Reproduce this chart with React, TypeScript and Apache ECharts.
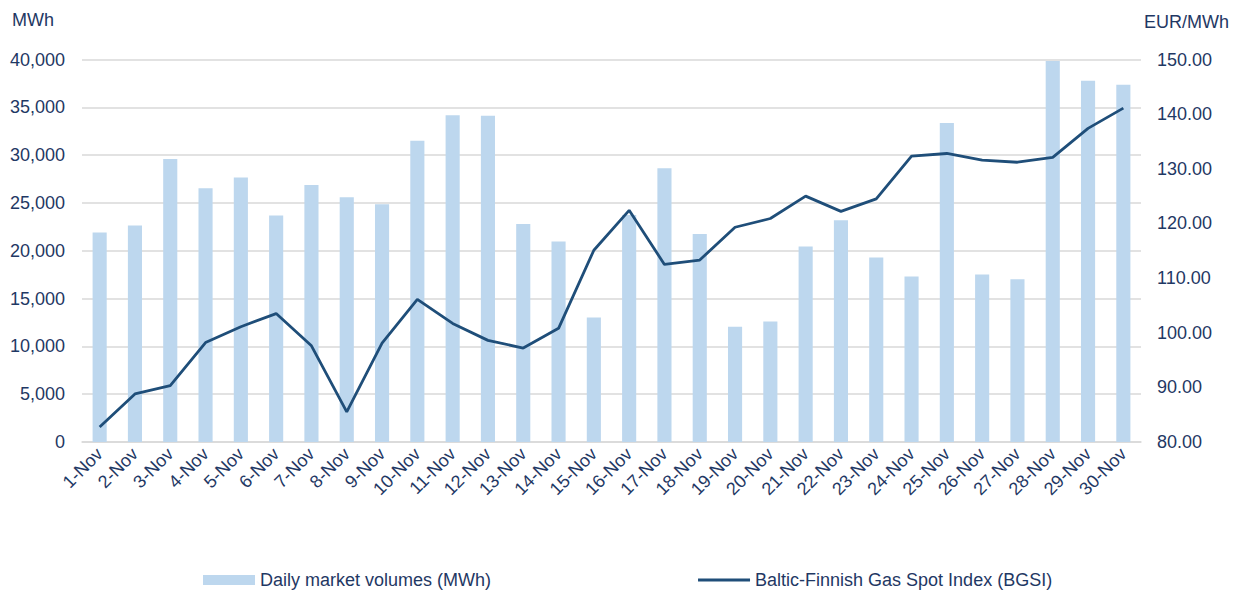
import React, { useEffect, useRef } from "react";
import * as echarts from "echarts";

const categories = [
  "1-Nov", "2-Nov", "3-Nov", "4-Nov", "5-Nov", "6-Nov", "7-Nov", "8-Nov", "9-Nov", "10-Nov",
  "11-Nov", "12-Nov", "13-Nov", "14-Nov", "15-Nov", "16-Nov", "17-Nov", "18-Nov", "19-Nov", "20-Nov",
  "21-Nov", "22-Nov", "23-Nov", "24-Nov", "25-Nov", "26-Nov", "27-Nov", "28-Nov", "29-Nov", "30-Nov",
];

const volumes = [
  21900, 22630, 29600, 26530, 27650, 23680, 26880, 25590, 24860, 31510,
  34160, 34120, 22810, 20960, 13020, 23750, 28620, 21760, 12050, 12600,
  20440, 23190, 19290, 17310, 33360, 17510, 17030, 39840, 37780, 37360,
];

const bgsi = [
  82.75, 88.8, 90.3, 98.2, 101.1, 103.5, 97.6, 85.5, 98.1, 106.1,
  101.7, 98.6, 97.2, 100.8, 115.1, 122.4, 112.5, 113.3, 119.3, 120.9,
  125.0, 122.2, 124.5, 132.3, 132.8, 131.6, 131.2, 132.1, 137.4, 141.1,
];

const volumeName = "Daily market volumes (MWh)";
const indexName = "Baltic-Finnish Gas Spot Index (BGSI)";
const leftUnit = "MWh";
const rightUnit = "EUR/MWh";

const TEXT = "#1F3864";
const FONT = "'Liberation Sans', Arial, sans-serif";

export default function App() {
  const ref = useRef<HTMLDivElement>(null);

  useEffect(() => {
    if (!ref.current) return;
    const chart = echarts.init(ref.current, null, { renderer: "svg" });
    chart.setOption({
      animation: false,
      textStyle: { fontFamily: FONT, color: TEXT },
      grid: { left: 82, right: 105, top: 59.5, bottom: 149, containLabel: false },
      graphic: [
        {
          type: "text",
          left: 12,
          top: 11,
          style: { text: leftUnit, fontSize: 18, fontFamily: FONT, fill: TEXT },
        },
        {
          type: "text",
          left: 1144,
          top: 13,
          style: { text: rightUnit, fontSize: 18, fontFamily: FONT, fill: TEXT },
        },
      ],
      legend: {
        left: 198,
        top: 566,
        itemGap: 207,
        itemWidth: 52,
        itemHeight: 10,
        symbolKeepAspect: true,
        textStyle: { fontSize: 18, fontFamily: FONT, color: TEXT },
        data: [
          { name: volumeName, icon: "rect" },
          { name: indexName, icon: "path://M0,0 L52,0 L52,2.8 L0,2.8 Z" },
        ],
      },
      xAxis: {
        type: "category",
        data: categories,
        boundaryGap: true,
        axisLine: { lineStyle: { color: "#D9D9D9", width: 1.5 } },
        axisTick: { show: false },
        axisLabel: {
          interval: 0,
          rotate: 45,
          fontSize: 18,
          fontFamily: FONT,
          color: TEXT,
          margin: 9,
        },
      },
      yAxis: [
        {
          type: "value",
          min: 0,
          max: 40000,
          interval: 5000,
          axisLine: { show: false },
          axisTick: { show: false },
          splitLine: { lineStyle: { color: "#D9D9D9", width: 1.5 } },
          axisLabel: {
            fontSize: 18,
            fontFamily: FONT,
            color: TEXT,
            margin: 17,
            formatter: (v: number) => v.toLocaleString("en-US"),
          },
        },
        {
          type: "value",
          min: 80,
          max: 150,
          interval: 10,
          position: "right",
          axisLine: { show: false },
          axisTick: { show: false },
          splitLine: { show: false },
          axisLabel: {
            fontSize: 18,
            fontFamily: FONT,
            color: TEXT,
            margin: 16,
            formatter: (v: number) => v.toFixed(2),
          },
        },
      ],
      series: [
        {
          name: volumeName,
          type: "bar",
          data: volumes,
          barWidth: "40%",
          itemStyle: { color: "#BDD7EE" },
          yAxisIndex: 0,
        },
        {
          name: indexName,
          type: "line",
          data: bgsi,
          yAxisIndex: 1,
          symbol: "none",
          showSymbol: false,
          lineStyle: { color: "#1F4E79", width: 2.8 },
          itemStyle: { color: "#1F4E79" },
        },
      ],
    });
    return () => chart.dispose();
  }, []);

  return (
    <div
      ref={ref}
      style={{ position: "absolute", left: 0, top: 0, width: 1246, height: 591, overflow: "hidden" }}
    />
  );
}
